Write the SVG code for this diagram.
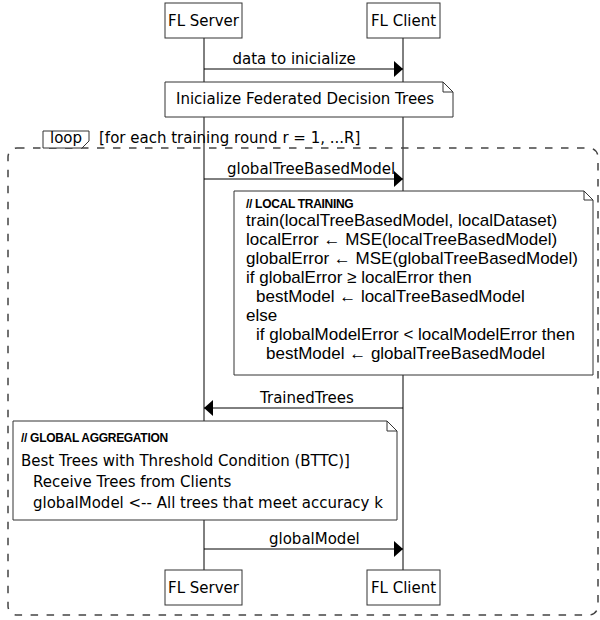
<svg xmlns="http://www.w3.org/2000/svg" width="600" height="620" viewBox="0 0 600 620">
<style>
  .t { font-family: "DejaVu Sans", Verdana, sans-serif; font-size: 15px; fill: #000; }
  .a { font-family: "Liberation Sans", Arial, sans-serif; font-size: 17px; fill: #000; }
  .h { font-family: "Liberation Sans", Arial, sans-serif; font-size: 12px; font-weight: bold; fill: #000; letter-spacing: -0.3px; }
  .box { fill: #fff; stroke: #333; stroke-width: 1; }
  .note { fill: #fff; stroke: #333; stroke-width: 1; }
  .fold { fill: none; stroke: #333; stroke-width: 1; }
  .life { stroke: #000; stroke-width: 1; }
  .msg { stroke: #000; stroke-width: 1; fill: none; }
  .loop { fill: none; stroke: #444; stroke-width: 1.5; stroke-dasharray: 7.5 8.5; }
</style>
<defs>
  <marker id="ah" markerWidth="9" markerHeight="16" refX="9" refY="8" orient="auto" markerUnits="userSpaceOnUse">
    <path d="M0,0 L9,8 L0,16 Z" fill="#000"/>
  </marker>
</defs>
<rect width="600" height="620" fill="#fff"/>

<g id="lifelines">
  <line class="life" x1="204" y1="38" x2="204" y2="570"/>
  <line class="life" x1="403" y1="38" x2="403" y2="570"/>
</g>

<g id="loop-frame">
  <rect class="loop" x="8" y="148" width="590" height="467" rx="9" ry="9"/>
  <path class="box" d="M43,131 H89 V141 L82,148 H43 Z"/>
  <text class="t" x="50" y="143">loop</text>
  <text class="t" x="99" y="143">[for each training round r = 1, ...R]</text>
</g>

<g id="connectors">
  <line class="msg" x1="204" y1="69" x2="403" y2="69" marker-end="url(#ah)"/>
  <text class="t" x="232.5" y="64">data to inicialize</text>
  <line class="msg" x1="204" y1="179" x2="403" y2="179" marker-end="url(#ah)"/>
  <text class="t" x="227" y="174">globalTreeBasedModel</text>
  <line class="msg" x1="403" y1="408" x2="204" y2="408" marker-end="url(#ah)"/>
  <text class="t" x="260" y="403">TrainedTrees</text>
  <line class="msg" x1="204" y1="549" x2="403" y2="549" marker-end="url(#ah)"/>
  <text class="t" x="269" y="544">globalModel</text>
</g>

<g id="server-top">
  <rect class="box" x="165" y="3" width="77" height="35"/>
  <text class="t" x="203.5" y="26" text-anchor="middle">FL Server</text>
</g>
<g id="client-top">
  <rect class="box" x="367" y="3" width="73" height="35"/>
  <text class="t" x="403.5" y="26" text-anchor="middle">FL Client</text>
</g>

<g id="note-init">
  <path class="note" d="M165,82 H443 L453,92 V117 H165 Z"/>
  <path class="fold" d="M443,82 V92 H453"/>
  <text class="t" x="176" y="104">Inicialize Federated Decision Trees</text>
</g>

<g id="note-local-training">
  <path class="note" d="M234,191 H584 L593,200 V375 H234 Z"/>
  <path class="fold" d="M584,191 V200 H593"/>
  <text class="h" x="246" y="208">// LOCAL TRAINING</text>
  <text class="a" x="246" y="226">train(localTreeBasedModel, localDataset)</text>
  <text class="a" x="246" y="245">localError ← MSE(localTreeBasedModel)</text>
  <text class="a" x="246" y="264">globalError ← MSE(globalTreeBasedModel)</text>
  <text class="a" x="246" y="283">if globalError ≥ localError then</text>
  <text class="a" x="256" y="302">bestModel ← localTreeBasedModel</text>
  <text class="a" x="246" y="321">else</text>
  <text class="a" x="256" y="340">if globalModelError &lt; localModelError then</text>
  <text class="a" x="266" y="359">bestModel ← globalTreeBasedModel</text>
</g>

<g id="note-global-aggregation">
  <path class="note" d="M13,421 H387 L397,431 V520 H13 Z"/>
  <path class="fold" d="M387,421 V431 H397"/>
  <text class="h" x="21" y="442">// GLOBAL AGGREGATION</text>
  <text class="t" x="21" y="466">Best Trees with Threshold Condition (BTTC)]</text>
  <text class="t" x="33" y="487">Receive Trees from Clients</text>
  <text class="t" x="33" y="508">globalModel &lt;-- All trees that meet accuracy k</text>
</g>

<g id="server-bottom">
  <rect class="box" x="165" y="570" width="77" height="35"/>
  <text class="t" x="203.5" y="593" text-anchor="middle">FL Server</text>
</g>
<g id="client-bottom">
  <rect class="box" x="367" y="570" width="73" height="35"/>
  <text class="t" x="403.5" y="593" text-anchor="middle">FL Client</text>
</g>
</svg>
